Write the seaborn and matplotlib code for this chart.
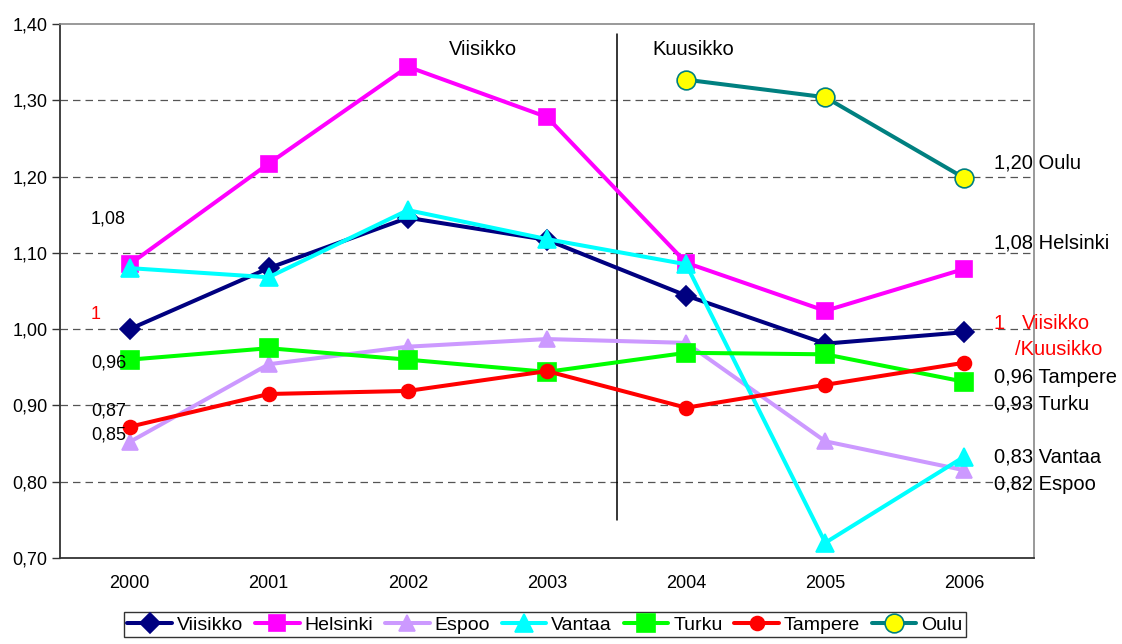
import numpy as np
import pandas as pd
import matplotlib
matplotlib.use("Agg")
import matplotlib.pyplot as plt
import seaborn as sns

years = ["2000", "2001", "2002", "2003", "2004", "2005", "2006"]
viisikko = [1.00, 1.08, 1.146, 1.117, 1.044, 0.981, 0.996]
helsinki = [1.085, 1.217, 1.344, 1.278, 1.087, 1.024, 1.079]
espoo = [0.852, 0.954, 0.977, 0.987, 0.982, 0.853, 0.815]
vantaa = [1.08, 1.068, 1.156, 1.118, 1.085, 0.72, 0.833]
turku = [0.96, 0.975, 0.96, 0.944, 0.969, 0.967, 0.931]
tampere = [0.872, 0.915, 0.919, 0.945, 0.897, 0.927, 0.956]
oulu = [np.nan, np.nan, np.nan, np.nan, 1.327, 1.304, 1.198]

series = {
    "Viisikko": viisikko,
    "Helsinki": helsinki,
    "Espoo": espoo,
    "Vantaa": vantaa,
    "Turku": turku,
    "Tampere": tampere,
    "Oulu": oulu,
}
styles = {
    "Viisikko": dict(color="#000080", marker="D", markersize=10, mfc="#000080", mec="#000080"),
    "Helsinki": dict(color="#FF00FF", marker="s", markersize=12, mfc="#FF00FF", mec="#FF00FF"),
    "Espoo": dict(color="#CC99FF", marker="^", markersize=11, mfc="#CC99FF", mec="#CC99FF"),
    "Vantaa": dict(color="#00FFFF", marker="^", markersize=13, mfc="#00FFFF", mec="#00FFFF"),
    "Turku": dict(color="#00FF00", marker="s", markersize=13, mfc="#00FF00", mec="#00FF00"),
    "Tampere": dict(color="#FF0000", marker="o", markersize=10, mfc="#FF0000", mec="#FF0000"),
    "Oulu": dict(color="#008080", marker="o", markersize=13.5, mfc="#FFFF00", mec="#008080"),
}

sns.set_style("white")
plt.rcParams["font.family"] = ["Liberation Sans", "DejaVu Sans"]
plt.rcParams["font.size"] = 13
plt.rcParams["text.color"] = "black"
plt.rcParams["xtick.labelcolor"] = "black"
plt.rcParams["ytick.labelcolor"] = "black"

fig = plt.figure(figsize=(11.22, 6.44), dpi=100)
ax = fig.add_axes([60 / 1122, (644 - 558) / 644, 974 / 1122, 534 / 644])

x = np.arange(len(years))
for name, vals in series.items():
    st = styles[name]
    sns.lineplot(x=x, y=vals, ax=ax, color=st["color"], lw=2.9, label=name,
                 marker=st["marker"], markersize=st["markersize"],
                 markerfacecolor=st["mfc"], markeredgecolor=st["mec"],
                 markeredgewidth=1.2, zorder=3)

ax.set_xlim(-0.5, 6.5)
ax.set_ylim(0.70, 1.40)
yt = np.arange(0.70, 1.41, 0.10)
ax.set_yticks(yt)
ax.set_yticklabels([f"{v:.2f}".replace(".", ",") for v in yt], fontsize=13)
ax.set_xticks(x)
ax.set_xticklabels(years, fontsize=13)
ax.set_xticks(np.arange(-0.5, 6.6, 1.0), minor=True)
ax.tick_params(axis="x", which="major", length=0, pad=12)
ax.tick_params(axis="x", which="minor", length=6, width=1, color="#333333", direction="out")
ax.tick_params(axis="y", length=6, width=1, color="#333333", direction="out", left=True, pad=3)

for v in [0.8, 0.9, 1.0, 1.1, 1.2, 1.3]:
    ax.axhline(v, color="#555555", lw=0.9, ls=(0, (6, 4)), zorder=1)

for s in ["left", "bottom"]:
    ax.spines[s].set_color("#333333")
    ax.spines[s].set_linewidth(1.3)
for s in ["top", "right"]:
    ax.spines[s].set_color("#888888")
    ax.spines[s].set_linewidth(1.2)

# divider between Viisikko and Kuusikko
ax.plot([3.5, 3.5], [0.75, 1.387], color="black", lw=1.1, zorder=2)
ax.text(2.543, 1.366, "Viisikko", fontsize=14.5, ha="center", va="center")
ax.text(4.054, 1.366, "Kuusikko", fontsize=14.5, ha="center", va="center")

# left labels
lx = -0.277
ax.text(lx, 1.144, "1,08", fontsize=13, ha="left", va="center")
ax.text(lx, 1.019, "1", fontsize=13, color="red", ha="left", va="center")
ax.text(lx, 0.956, "0,96", fontsize=13, ha="left", va="center", zorder=4)
ax.text(lx, 0.893, "0,87", fontsize=13, ha="left", va="center")
ax.text(lx, 0.861, "0,85", fontsize=13, ha="left", va="center", zorder=4)

# right labels
rx = 6.212
fs = 14.5
ax.text(rx, 1.218, "1,20 Oulu", fontsize=fs, ha="left", va="center", clip_on=False)
ax.text(rx, 1.113, "1,08 Helsinki", fontsize=fs, ha="left", va="center", clip_on=False)
ax.text(rx, 1.008, "1", fontsize=fs, color="red", ha="left", va="center", clip_on=False)
ax.text(6.414, 1.008, "Viisikko", fontsize=fs, color="red", ha="left", va="center", clip_on=False)
ax.text(6.363, 0.973, "/Kuusikko", fontsize=fs, color="red", ha="left", va="center", clip_on=False)
ax.text(rx, 0.937, "0,96 Tampere", fontsize=fs, ha="left", va="center", clip_on=False)
ax.text(rx, 0.902, "0,93 Turku", fontsize=fs, ha="left", va="center", clip_on=False)
ax.text(rx, 0.833, "0,83 Vantaa", fontsize=fs, ha="left", va="center", clip_on=False)
ax.text(rx, 0.797, "0,82 Espoo", fontsize=fs, ha="left", va="center", clip_on=False)

ax.set_xlabel("")
ax.set_ylabel("")
leg = ax.legend(loc="upper center", bbox_to_anchor=(545 / 1122, (644 - 612) / 644),
                bbox_transform=fig.transFigure, ncol=7, frameon=True, fancybox=False,
                fontsize=14, handlelength=2.3, columnspacing=0.6, handletextpad=0.25,
                borderpad=0.2, borderaxespad=0)
leg.get_frame().set_edgecolor("black")
leg.get_frame().set_linewidth(1.0)

fig.savefig("out.png", dpi=100)
